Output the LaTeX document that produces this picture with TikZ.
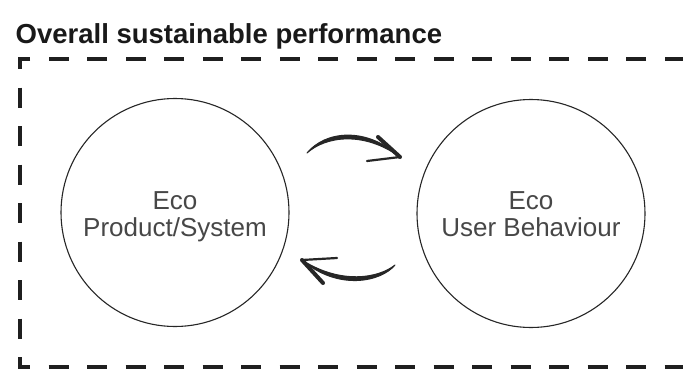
\documentclass[tikz,border=0pt]{standalone}
\usepackage{fontspec}
\setmainfont{Liberation Sans}
\begin{document}
\begin{tikzpicture}[x=1pt,y=-1pt,
  frame/.style={draw=black!88, line width=3.6pt, dash pattern=on 20pt off 18.5pt, dash phase=33pt},
  bubble/.style={draw=black!85, line width=1.1pt, circle, minimum size=228pt, inner sep=0pt},
  bubbletext/.style={align=center, text=black!72, font=\fontsize{26}{27}\selectfont, inner sep=0pt},
  heading/.style={font=\bfseries\fontsize{27.5}{30}\selectfont, text=black!90, inner sep=0pt, anchor=base west},
  shaft/.style={fill=black!85, draw=black!85, line width=1pt, line join=round},
  barb/.style={draw=black!85, line cap=round}]
\useasboundingbox (0,0) rectangle (683,370);
\fill[white] (0,0) rectangle (683,370);

% heading
\node[heading] (title) at (15.5,43.5) {Overall sustainable performance};

% dashed boundary, open to the right
\draw[frame] (690,59) -- (20,59) -- (20,367) -- (690,367);

% the two bubbles
\node[bubble] (eps) at (175,212.5) {};
\node[bubble] (eub) at (531,213.5) {};
\node[bubbletext] (epstext) at (175,217) {Eco\\Product/System};
\node[bubbletext] (eubtext) at (531,214.2) {Eco\\User Behaviour};

% upper arrow: product -> behaviour
\coordinate (ua) at (307,153);
\coordinate (ub) at (400,157);
\coordinate (ubone) at (378,137);
\coordinate (ubtwo) at (367,161);
\filldraw[shaft] (ua) .. controls (325,131) and (366,126) .. (ub)
  .. controls (364,131) and (326,136) .. (ua) -- cycle;
\draw[barb, line width=4pt] (ub) -- (ubone);
\draw[barb, line width=2.2pt] (ub) -- (ubtwo);

% lower arrow: behaviour -> product
\coordinate (la) at (395,265);
\coordinate (lb) at (302,260);
\coordinate (lbone) at (323,283);
\coordinate (lbtwo) at (337,258);
\filldraw[shaft] (la) .. controls (381,282) and (338,291) .. (lb)
  .. controls (341,285) and (379,278) .. (la) -- cycle;
\draw[barb, line width=4pt] (lb) -- (lbone);
\draw[barb, line width=2.2pt] (lb) -- (lbtwo);
\end{tikzpicture}
\end{document}
